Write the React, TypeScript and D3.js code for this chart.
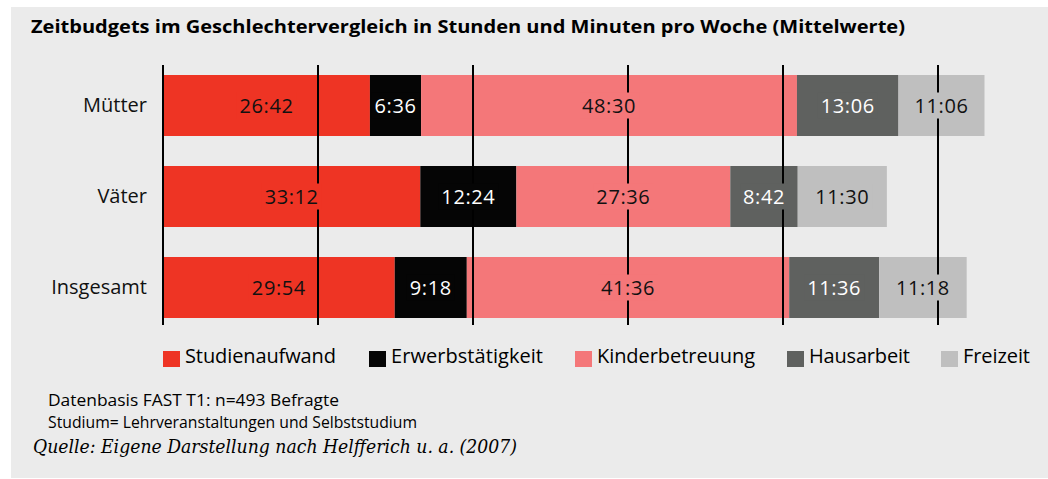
import React, { useEffect, useRef } from "react";
import * as d3 from "d3";

const categories = ["Mütter", "Väter", "Insgesamt"];
const seriesNames = ["Studienaufwand", "Erwerbstätigkeit", "Kinderbetreuung", "Hausarbeit", "Freizeit"];
const seriesColors = ["#ee3424", "#050505", "#f47779", "#5f615f", "#bfbfbf"];
const labelColors = ["#111", "#fff", "#111", "#fff", "#111"];
// values as "hours:minutes" per week
const muetter = ["26:42", "6:36", "48:30", "13:06", "11:06"];
const vaeter = ["33:12", "12:24", "27:36", "8:42", "11:30"];
const insgesamt = ["29:54", "9:18", "41:36", "11:36", "11:18"];
const rows = [muetter, vaeter, insgesamt];
const gridTicks = [0, 20, 40, 60, 80, 100];

const title = "Zeitbudgets im Geschlechtervergleich in Stunden und Minuten pro Woche (Mittelwerte)";
const notes = ["Datenbasis FAST T1: n=493 Befragte", "Studium= Lehrveranstaltungen und Selbststudium"];
const source = "Quelle: Eigene Darstellung nach Helfferich u. a. (2007)";

const toHours = (s: string) => {
  const [h, m] = s.split(":").map(Number);
  return h + m / 60;
};

const W = 1048;
const H = 479;
const FONT = "'Open Sans', 'Noto Sans', sans-serif";

export default function App() {
  const ref = useRef<SVGSVGElement>(null);
  useEffect(() => {
    const svg = d3.select(ref.current);
    svg.selectAll("*").remove();

    const fit = (t: any, width: number, mode = "spacingAndGlyphs") => {
      t.attr("textLength", width).attr("lengthAdjust", mode);
      return t;
    };

    svg.append("rect").attr("x", 11).attr("y", 7).attr("width", W - 11).attr("height", 471).attr("fill", "#ebebeb");

    fit(svg.append("text").attr("x", 31).attr("y", 33).attr("font-family", FONT).attr("font-weight", 700)
      .attr("font-size", 18.5).attr("fill", "#000").text(title), 874);

    const x = d3.scaleLinear().domain([0, 100]).range([163, 938]);
    const yb = d3.scaleBand().domain(categories).range([75, 318]).paddingInner(30 / 91).paddingOuter(0);

    const stacked = rows.map((r) => {
      let acc = 0;
      return r.map((v, i) => {
        const h = toHours(v);
        const seg = { start: acc, end: acc + h, label: v, i };
        acc += h;
        return seg;
      });
    });

    // bars
    categories.forEach((c, ci) => {
      const g = svg.append("g");
      g.selectAll("rect").data(stacked[ci]).enter().append("rect")
        .attr("x", (d) => x(d.start)).attr("width", (d) => x(d.end) - x(d.start))
        .attr("y", yb(c)!).attr("height", yb.bandwidth())
        .attr("fill", (d) => seriesColors[d.i]);
    });

    // grid lines on top of bars
    svg.append("g").selectAll("line").data(gridTicks).enter().append("line")
      .attr("x1", (d) => x(d)).attr("x2", (d) => x(d)).attr("y1", 65).attr("y2", 325)
      .attr("stroke", "#000").attr("stroke-width", 2);

    // labels with knockout backgrounds
    categories.forEach((c, ci) => {
      const cy = yb(c)! + yb.bandwidth() / 2;
      stacked[ci].forEach((d) => {
        const cx = (x(d.start) + x(d.end)) / 2;
        const bg = svg.append("rect").attr("fill", seriesColors[d.i]);
        const t = svg.append("text").attr("x", cx).attr("y", cy + 7).attr("text-anchor", "middle")
          .attr("font-family", FONT).attr("font-size", 20).attr("letter-spacing", 0.6)
          .attr("fill", labelColors[d.i]).text(d.label);
        const tw = (t.node() as SVGTextElement).getComputedTextLength();
        bg.attr("x", cx - tw / 2 - 3).attr("width", tw + 6).attr("y", cy - 13).attr("height", 26);
      });
      svg.append("text").attr("x", 147).attr("y", cy + 6.5).attr("text-anchor", "end")
        .attr("font-family", FONT).attr("font-size", 20).attr("fill", "#111").text(c);
    });

    // legend
    const legendX = [163, 369, 575, 787, 941];
    const legendW = [151, 152, 158, 101, 67];
    seriesNames.forEach((s, i) => {
      svg.append("rect").attr("x", legendX[i]).attr("y", 351).attr("width", 17).attr("height", 16).attr("fill", seriesColors[i]);
      fit(svg.append("text").attr("x", legendX[i] + 22).attr("y", 363).attr("font-family", FONT).attr("font-size", 20)
        .attr("fill", "#000").text(s), legendW[i], "spacing");
    });

    const noteW = [291, 369];
    notes.forEach((n, i) => {
      fit(svg.append("text").attr("x", 48).attr("y", 406 + i * 22).attr("font-family", FONT).attr("font-size", 16)
        .attr("fill", "#000").text(n), noteW[i]);
    });
    fit(svg.append("text").attr("x", 33).attr("y", 453).attr("font-family", "'DejaVu Serif', 'Liberation Serif', serif")
      .attr("font-style", "italic").attr("font-size", 18).attr("fill", "#000").text(source), 484);
  }, []);

  return (
    <svg ref={ref} width={W} height={H} style={{ position: "absolute", left: 0, top: 0, background: "#fff" }} />
  );
}
